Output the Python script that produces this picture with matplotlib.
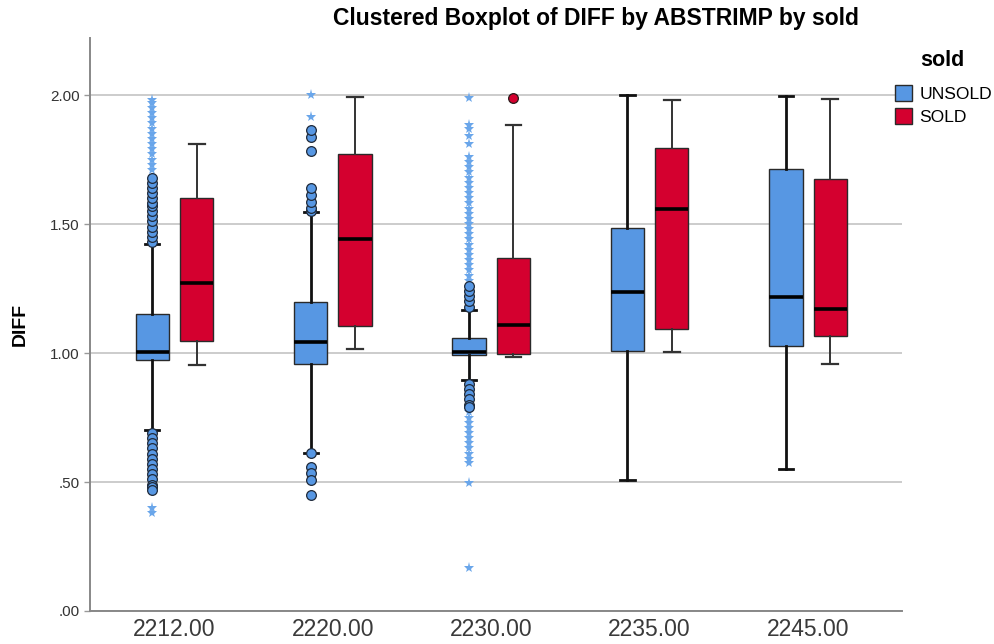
import matplotlib.pyplot as plt
from matplotlib.patches import Patch

# ABSTRIMP groups
categories = ["2212.00", "2220.00", "2230.00", "2235.00", "2245.00"]

# box statistics per group: (whislo, q1, med, q3, whishi)
unsold_stats = [
    (0.70, 0.971, 1.002, 1.153, 1.421),
    (0.611, 0.959, 1.041, 1.196, 1.545),
    (0.895, 0.994, 1.002, 1.060, 1.167),
    (0.508, 1.009, 1.238, 1.486, 2.000),
    (0.549, 1.028, 1.218, 1.712, 1.997),
]
sold_stats = [
    (0.955, 1.045, 1.270, 1.600, 1.810),
    (1.017, 1.103, 1.441, 1.771, 1.992),
    (0.983, 0.998, 1.110, 1.367, 1.884),
    (1.003, 1.092, 1.558, 1.793, 1.981),
    (0.957, 1.067, 1.172, 1.673, 1.984),
]

# outliers (circles) and extremes (stars)
unsold_outliers = [
    [1.43, 1.45, 1.47, 1.49, 1.51, 1.53, 1.55, 1.57, 1.58, 1.60, 1.62, 1.64, 1.66, 1.68,
     0.69, 0.67, 0.65, 0.63, 0.61, 0.59, 0.57, 0.55, 0.53, 0.51, 0.49, 0.48, 0.47],
    [1.55, 1.561, 1.586, 1.612, 1.638, 1.784, 1.838, 1.864,
     0.611, 0.559, 0.534, 0.508, 0.450],
    [1.18, 1.20, 1.22, 1.24, 1.26, 0.88, 0.86, 0.84, 0.82, 0.80, 0.79],
    [],
    [],
]
unsold_extremes = [
    [1.71, 1.73, 1.75, 1.77, 1.79, 1.81, 1.83, 1.85, 1.87, 1.89, 1.91, 1.93, 1.95, 1.97, 1.98,
     0.40, 0.38],
    [2.00, 1.913],
    [1.28, 1.30, 1.32, 1.34, 1.36, 1.38, 1.40, 1.42, 1.44, 1.46, 1.48, 1.50, 1.52, 1.54,
     1.56, 1.58, 1.60, 1.62, 1.64, 1.66, 1.68, 1.70, 1.72, 1.74, 1.76, 1.81, 1.84, 1.87,
     1.884, 1.988,
     0.77, 0.75, 0.73, 0.71, 0.69, 0.67, 0.65, 0.63, 0.61, 0.59, 0.573, 0.496, 0.167],
    [],
    [],
]
sold_outliers = [[], [], [1.988], [], []]

yticks = [0.0, 0.5, 1.0, 1.5, 2.0]
ytick_labels = [".00", ".50", "1.00", "1.50", "2.00"]

BLUE = "#5797E3"
RED = "#D4002F"
STAR_BLUE = "#6AA6EA"

plt.rcParams["font.family"] = ["Liberation Sans", "DejaVu Sans"]

fig = plt.figure(figsize=(9.95, 6.44), dpi=100)
ax = fig.add_axes([90 / 995, 33 / 644, 812 / 995, 573 / 644])

offset = 0.14
width = 0.21


def make_stats(rows):
    out = []
    for lo, q1, med, q3, hi in rows:
        out.append(dict(whislo=lo, q1=q1, med=med, q3=q3, whishi=hi, fliers=[]))
    return out


pos_u = [i - offset for i in range(len(categories))]
pos_s = [i + offset for i in range(len(categories))]

ax.bxp(make_stats(unsold_stats), positions=pos_u, widths=width, patch_artist=True,
       showfliers=False,
       boxprops=dict(facecolor=BLUE, edgecolor="#2a2a2a", linewidth=1.0),
       medianprops=dict(color="black", linewidth=2.6),
       whiskerprops=dict(color="#111111", linewidth=2.0),
       capprops=dict(color="#111111", linewidth=2.0), capwidths=0.09, zorder=3)
ax.bxp(make_stats(sold_stats), positions=pos_s, widths=width, patch_artist=True,
       showfliers=False,
       boxprops=dict(facecolor=RED, edgecolor="#2a2a2a", linewidth=1.0),
       medianprops=dict(color="black", linewidth=2.6),
       whiskerprops=dict(color="#333333", linewidth=1.4),
       capprops=dict(color="#333333", linewidth=1.6), capwidths=0.10, zorder=3)

for p, vals in zip(pos_u, unsold_extremes):
    ax.plot([p] * len(vals), vals, linestyle="none", marker="*", markersize=8,
            color=STAR_BLUE, markeredgewidth=0, zorder=4)
for p, vals in zip(pos_u, unsold_outliers):
    ax.plot([p] * len(vals), vals, linestyle="none", marker="o", markersize=7,
            markerfacecolor=BLUE, markeredgecolor="#1f2a3a", markeredgewidth=0.9, zorder=5)
for p, vals in zip(pos_s, sold_outliers):
    ax.plot([p] * len(vals), vals, linestyle="none", marker="o", markersize=7,
            markerfacecolor=RED, markeredgecolor="#2a1a1a", markeredgewidth=0.9, zorder=5)

ax.set_xlim(-0.533, 4.593)
ax.set_ylim(0, 2.221)
ax.set_xticks(range(len(categories)))
ax.set_xticklabels(categories, fontsize=16.5, color="#3a3a3a",
                   family=["Liberation Sans Narrow", "Liberation Sans"])
ax.set_yticks(yticks)
ax.set_yticklabels(ytick_labels, fontsize=11, color="#333333")
ax.tick_params(axis="x", length=0, pad=5)
ax.tick_params(axis="y", length=4, color="#999999", width=1)

ax.grid(axis="y", color="#CCCCCC", linewidth=1.4, zorder=0)
ax.set_axisbelow(True)
for side in ["top", "right"]:
    ax.spines[side].set_visible(False)
for side in ["left", "bottom"]:
    ax.spines[side].set_color("#888888")
    ax.spines[side].set_linewidth(1.4)

ax.set_ylabel("DIFF", fontsize=14, fontweight="bold", labelpad=15)

fig.text(596 / 995, 1 - 19 / 644, "Clustered Boxplot of DIFF by ABSTRIMP by sold",
         ha="center", va="center", fontsize=16.5, fontweight="bold")

# legend title drawn on its own, entries below
fig.text(942 / 995, 1 - 61 / 644, "sold", ha="center", va="center",
         fontsize=15.5, fontweight="bold")
handles = [Patch(facecolor=BLUE, edgecolor="#2a2a2a", label="UNSOLD"),
           Patch(facecolor=RED, edgecolor="#2a2a2a", label="SOLD")]
fig.legend(handles=handles, loc="upper left", bbox_to_anchor=(895 / 995, 1 - 85 / 644),
           frameon=False, fontsize=12.6, handlelength=1.0, handleheight=1.0,
           handletextpad=0.4, labelspacing=0.37, borderaxespad=0, borderpad=0)

fig.savefig("out.png", dpi=100)
